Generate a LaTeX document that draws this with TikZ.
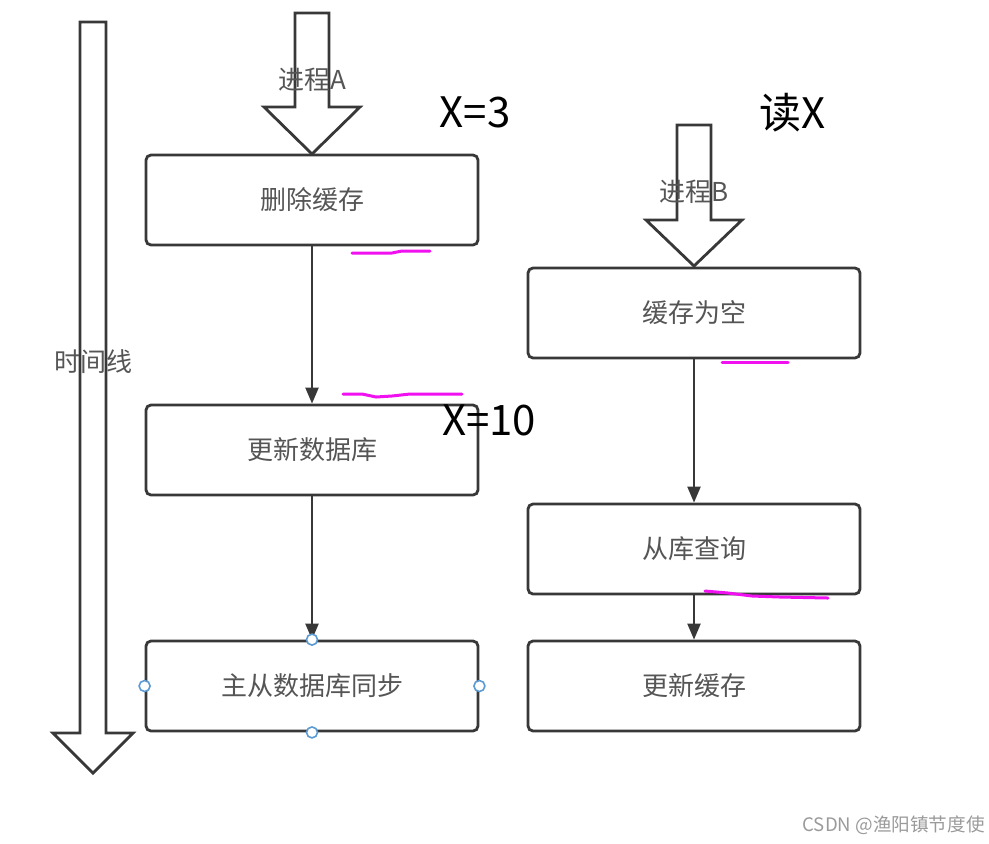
\documentclass[tikz,border=0pt]{standalone}
\usepackage{fontspec}
\setmainfont{Noto Sans CJK SC}
\usepackage{xcolor}
\usetikzlibrary{arrows.meta,positioning}
\definecolor{cLine}{HTML}{383838}
\definecolor{cText}{HTML}{555555}
\definecolor{cMark}{HTML}{F010F0}
\definecolor{cHandle}{HTML}{5B9BD5}
\definecolor{cWater}{HTML}{9A9A9A}
\tikzset{
  stepbox/.style={draw=cLine,fill=white,rounded corners=2.5pt,line width=1.4pt,minimum width=166pt,minimum height=45pt,inner sep=0pt,font=\fontsize{13}{15}\selectfont,text=cText},
  arr/.style={-{Triangle[length=8pt,width=6.5pt]},line width=1.1pt,color=cLine},
  barrow/.style={draw=cLine,line width=1.4pt,line join=miter},
  lbl/.style={font=\fontsize{13}{15}\selectfont,text=cText,inner sep=0pt},
  note/.style={font=\fontsize{21}{24}\selectfont,text=black,inner sep=0pt},
  hand/.style={cMark,line width=1.5pt,line cap=round,line join=round},
  handle/.style={circle,draw=cHandle,fill=white,line width=0.8pt,minimum size=5.5pt,inner sep=0pt},
}
% hollow block arrow: x, top, head start, tip, half shaft, half head
\newcommand{\blockarr}[6]{\draw[barrow] (#1-#5,#2) -- (#1+#5,#2) -- (#1+#5,#3) -- (#1+#6,#3) -- (#1,#4) -- (#1-#6,#3) -- (#1-#5,#3) -- cycle;}

\begin{document}
\begin{tikzpicture}[x=0.5pt,y=-0.5pt]
        \useasboundingbox (0,0) rectangle (989,843);
        % time line
        \blockarr{93}{22}{733}{773}{13}{40}
        \node[lbl] (tline) at (93,362) {时间线};
        % process A
        \blockarr{312}{13}{107}{154}{17}{48}
        \node[lbl] (procA) at (312,80) {进程A};
        \node[stepbox] (del) at (312,200) {删除缓存};
        \node[stepbox] (upd) at (312,450) {更新数据库};
        \node[stepbox] (sync) at (312,686) {主从数据库同步};
        \draw[arr] (del) -- (upd);
        \draw[arr] (upd) -- (sync);
        \foreach \a in {north,south,east,west}
          \node[handle] at (sync.\a) {};
        % process B
        \blockarr{694}{125}{220}{266}{17}{48}
        \node[lbl] (procB) at (694,192) {进程B};
        \node[stepbox] (miss) at (694,313) {缓存为空};
        \node[stepbox] (qry) at (694,549) {从库查询};
        \node[stepbox] (setc) at (694,686) {更新缓存};
        \draw[arr] (miss) -- (qry);
        \draw[arr] (qry) -- (setc);
        % values
        \node[note] (x3) at (475,112) {X=3};
        \node[note] (rx) at (793,113) {读X};
        \node[note] (x10) at (489,420) {X=10};
        \draw[hand] (352,253) -- (392,253) -- (402,251) -- (430,251);
        \draw[hand] (343,394) -- (362,394) -- (376,397) -- (392,396) -- (410,394) -- (462,394);
        \draw[hand] (722,362) -- (788,362);
        \draw[hand] (705,591) -- (728,593) -- (752,596) -- (780,597) -- (828,598);
        \node[anchor=east,font=\fontsize{9.3}{11}\selectfont,text=cWater,inner sep=0pt] (wm) at (985,825) {CSDN @渔阳镇节度使};
      \end{tikzpicture}
\end{document}
